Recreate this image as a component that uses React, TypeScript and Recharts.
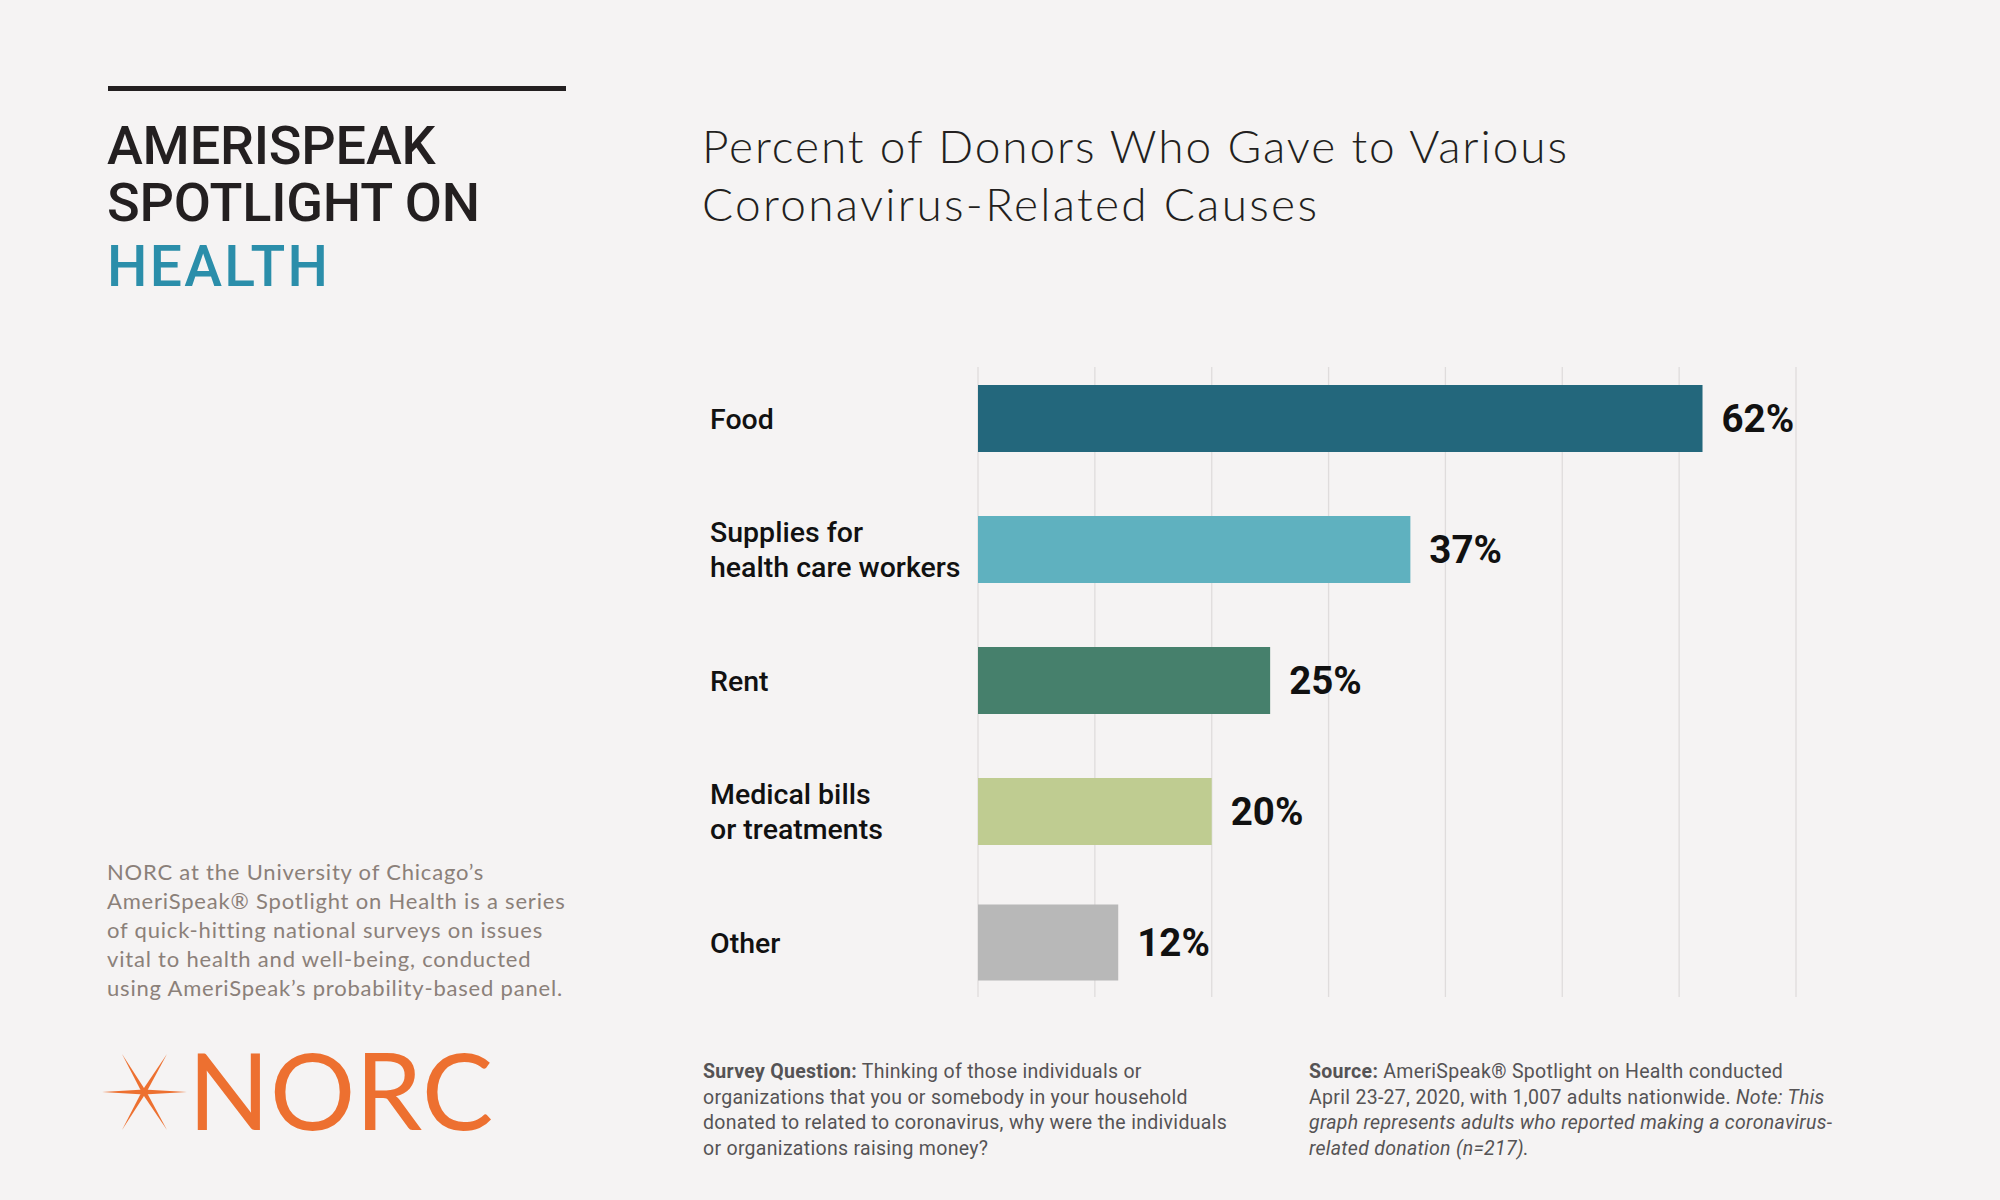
import React from 'react';
import { BarChart, Bar, XAxis, YAxis, CartesianGrid, Cell, LabelList, Rectangle } from 'recharts';

// chart data
const categories = ['Food', 'Supplies for\nhealth care workers', 'Rent', 'Medical bills\nor treatments', 'Other'];
const percents = [62, 37, 25, 20, 12];
const barColors = ['#23677c', '#5fb1bf', '#46806c', '#bfcc91', '#b8b8b8'];
const valueTicks = [0, 10, 20, 30, 40, 50, 60, 70];

const titleLines = ['Percent of Donors Who Gave to Various', 'Coronavirus-Related Causes'];
const blurbLines = [
  'NORC at the University of Chicago\u2019s',
  'AmeriSpeak\u00ae Spotlight on Health is a series',
  'of quick-hitting national surveys on issues',
  'vital to health and well-being, conducted',
  'using AmeriSpeak\u2019s probability-based panel.',
];

const ROBOTO = 'Roboto, "Noto Sans", sans-serif';
const LATO = 'Lato, "Open Sans", sans-serif';
const BG = '#f5f3f3';

const data = categories.map((cat, i) => ({ cat, value: percents[i], color: barColors[i] }));

const CategoryTick = (props: any) => {
  const { x, y, payload } = props;
  const lines = String(payload.value).split('\n');
  return (
    <text x={x - 268} y={y} fill="#111" fontFamily={ROBOTO} fontWeight={500} fontSize={28.5}>
      {lines.map((l, i) => (
        <tspan key={i} x={x - 268} y={y + 10 + (i - (lines.length - 1) / 2) * 35}>
          {l}
        </tspan>
      ))}
    </text>
  );
};

const GridLine = (p: any) => (
  <line
    key={`g-${p.index}-${p.x1}`}
    x1={p.x1}
    x2={p.x2}
    y1={p.y1 + 14}
    y2={p.y2 - 11}
    stroke="#dfdcdc"
    strokeWidth={1.3}
  />
);

// the "Other" bar is drawn a little taller in the original
const BarShape = (p: any) => {
  const grow = p.payload && p.payload.cat === 'Other' ? 4.5 : 0;
  return <Rectangle x={p.x} y={p.y - grow} width={p.width} height={p.height + grow * 2} fill={p.fill} />;
};

const ray = (cx: number, cy: number, tx: number, ty: number, w: number) => {
  const dx = tx - cx;
  const dy = ty - cy;
  const len = Math.sqrt(dx * dx + dy * dy);
  const ux = dx / len;
  const uy = dy / len;
  const nx = -uy * w;
  const ny = ux * w;
  return `${cx - ux * 3},${cy - uy * 3} ${cx + nx},${cy + ny} ${tx},${ty} ${cx - nx},${cy - ny}`;
};

const Overlay = () => {
  const cx = 144;
  const cy = 1092;
  const tips = [
    [102, 1092, 2.6],
    [187, 1092, 2.6],
    [122, 1054, 2.2],
    [167, 1054, 2.2],
    [122, 1130, 2.2],
    [167, 1130, 2.2],
  ];
  return (
    <svg width={2000} height={1200} style={{ position: 'absolute', left: 0, top: 0, pointerEvents: 'none' }}>
      <rect x={108} y={86} width={458} height={5} fill="#231f20" />
      <g fontFamily={ROBOTO} fontWeight={500} fill="#231f20">
        <text x={107} y={164} fontSize={54} letterSpacing={-0.2}>AMERISPEAK</text>
        <text x={107} y={221} fontSize={54} letterSpacing={-0.2}>SPOTLIGHT ON</text>
        <text x={107} y={286} fontSize={57} letterSpacing={2.3} fill="#2b8eaa">HEALTH</text>
      </g>
      <g fontFamily={LATO} fontWeight={300} fontSize={46} fill="#231f20">
        <text x={702} y={163} letterSpacing={1.9}>{titleLines[0]}</text>
        <text x={702} y={221} letterSpacing={2.3}>{titleLines[1]}</text>
      </g>
      <g fontFamily={LATO} fontSize={22} fill="#8b8079" letterSpacing={0.8}>
        {blurbLines.map((t, i) => (
          <text key={i} x={107} y={880 + i * 29}>
            {t}
          </text>
        ))}
      </g>
      <g fill="#ed7030">
        {tips.map((t, i) => (
          <polygon key={i} points={ray(cx, cy, t[0], t[1], t[2])} />
        ))}
        <text x={188} y={1130} fontFamily={LATO} fontSize={107}>
          NORC
        </text>
      </g>
      <g fontFamily={ROBOTO} fontSize={19.5} fill="#555355" letterSpacing={0.3}>
        <text x={703} y={1078}>
          <tspan fontWeight={700}>Survey Question:</tspan> Thinking of those individuals or
        </text>
        <text x={703} y={1103.5}>organizations that you or somebody in your household</text>
        <text x={703} y={1129}>donated to related to coronavirus, why were the individuals</text>
        <text x={703} y={1154.5}>or organizations raising money?</text>
        <text x={1309} y={1078}>
          <tspan fontWeight={700}>Source:</tspan> AmeriSpeak® Spotlight on Health conducted
        </text>
        <text x={1309} y={1103.5}>
          April 23-27, 2020, with 1,007 adults nationwide. <tspan fontStyle="italic">Note: This</tspan>
        </text>
        <text x={1309} y={1129} fontStyle="italic">
          graph represents adults who reported making a coronavirus-
        </text>
        <text x={1309} y={1154.5} fontStyle="italic">
          related donation (n=217).
        </text>
      </g>
    </svg>
  );
};

const App = () => {
  return (
    <div style={{ position: 'absolute', left: 0, top: 0, width: 2000, height: 1200, background: BG }}>
      <BarChart
        layout="vertical"
        width={2000}
        height={1200}
        data={data}
        margin={{ top: 353, right: 204, bottom: 192, left: 710 }}
        style={{ position: 'absolute', left: 0, top: 0 }}
      >
        <CartesianGrid horizontal={false} vertical={GridLine} />
        <XAxis type="number" domain={[0, 70]} ticks={valueTicks} hide />
        <YAxis
          type="category"
          dataKey="cat"
          width={268}
          axisLine={false}
          tickLine={false}
          tickSize={0}
          tickMargin={0}
          interval={0}
          tick={CategoryTick}
        />
        <Bar dataKey="value" barSize={67} isAnimationActive={false} shape={BarShape}>
          {data.map((d, i) => (
            <Cell key={i} fill={d.color} />
          ))}
          <LabelList
            dataKey="value"
            position="right"
            offset={19}
            formatter={(v: any) => `${v}%`}
            fill="#111"
            style={{ fontFamily: ROBOTO, fontWeight: 700, fontSize: 38.5, fill: '#111' }}
          />
        </Bar>
      </BarChart>
      <Overlay />
    </div>
  );
};

export default App;
